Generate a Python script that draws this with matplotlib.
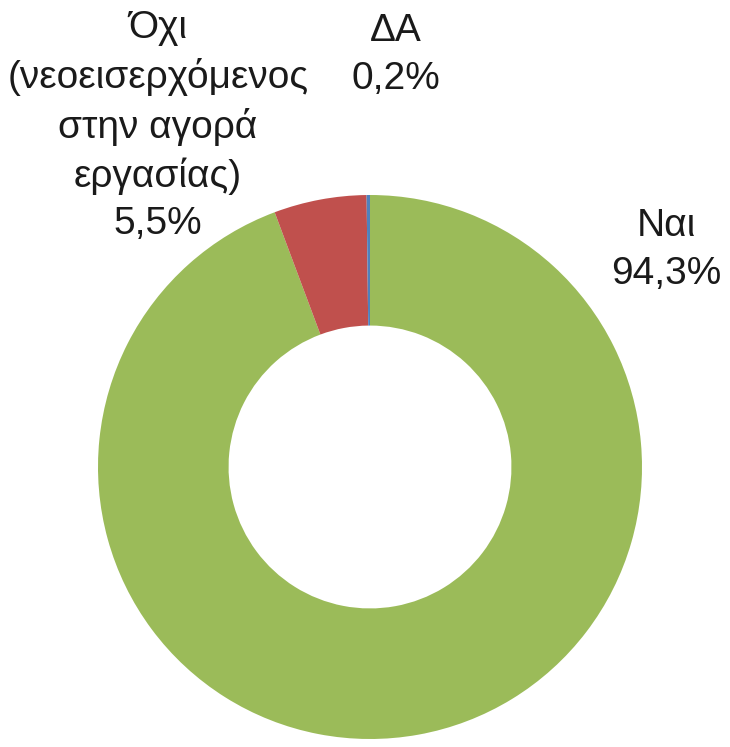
import matplotlib
matplotlib.use('Agg')
import matplotlib.pyplot as plt

plt.rcParams['font.family'] = ['Liberation Sans Narrow', 'Liberation Sans', 'DejaVu Sans']

# Data
categories = ['Ναι', 'Όχι\n(νεοεισερχόμενος\nστην αγορά\nεργασίας)', 'ΔΑ']
values = [94.3, 5.5, 0.2]
colors = ['#9BBB59', '#C0504D', '#4F81BD']

# pixel -> data helper (pie centre at 370,467 px, radius 272 px)
cx, cy, r = 370, 467, 272
W, H = 730, 747

fig = plt.figure(figsize=(7.3, 7.47), dpi=100)
ax = fig.add_axes([0, 0, 1, 1])
ax.pie(values, colors=colors, startangle=90, counterclock=False,
       radius=1, wedgeprops=dict(width=0.48, linewidth=0))
ax.set_xlim(-cx / r, (W - cx) / r)
ax.set_ylim((cy - H) / r, cy / r)
ax.set_aspect('auto')
ax.axis('off')

# label positions in pixels (centre of text block)
label_pos = [(666, 250), (158, 126), (396, 55)]
for lab, v, (px, py) in zip(categories, values, label_pos):
    txt = lab + '\n' + f'{v:.1f}%'.replace('.', ',')
    ax.text((px - cx) / r, (cy - py) / r, txt, ha='center', va='center',
            fontsize=28, color='#1a1a1a', linespacing=1.4)

fig.savefig('out.png', dpi=100)
